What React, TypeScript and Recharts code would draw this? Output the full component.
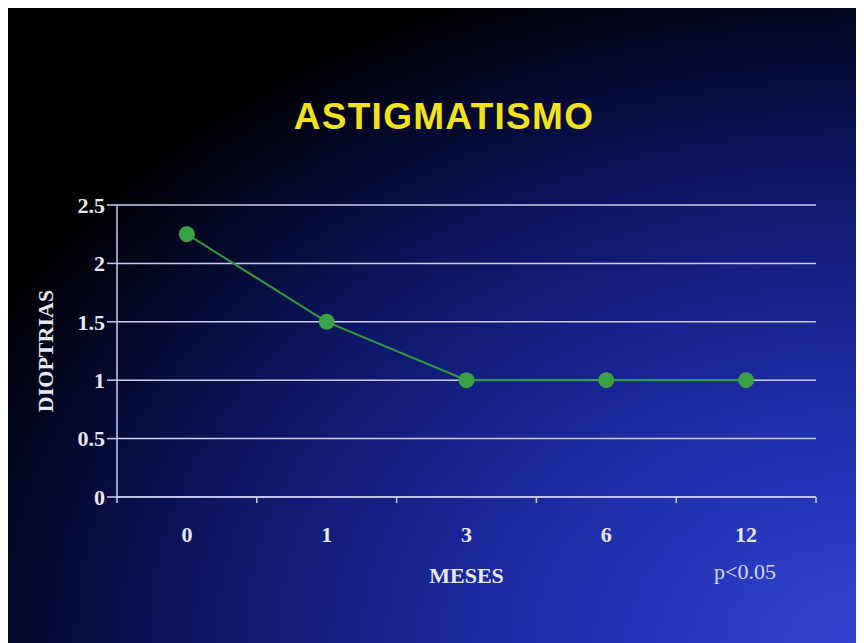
import React from "react";
import {
  LineChart,
  Line,
  XAxis,
  YAxis,
  CartesianGrid,
} from "recharts";

const MESES = ["0", "1", "3", "6", "12"];
const DIOPTRIAS = [2.25, 1.5, 1, 1, 1];
const Y_TICKS = [0, 0.5, 1, 1.5, 2, 2.5];

const data = MESES.map((mes, i) => ({ mes, valor: DIOPTRIAS[i] }));

const SERIF = '"Liberation Serif", "Times New Roman", serif';
const SANS = '"Liberation Sans", Arial, sans-serif';
const TEXT = "#e6e8f4";
const GRID = "#c9cdf0";

// category tick: label in the band centre, tick marks on the band edges
function MesTick(props: any) {
  const { x, y, payload, width, visibleTicksCount, index } = props;
  const band = width / visibleTicksCount;
  const left = x - band / 2;
  return (
    <g>
      <line x1={left} x2={left} y1={y - 8} y2={y - 2} stroke={GRID} strokeWidth={1.5} />
      {index === visibleTicksCount - 1 && (
        <line x1={left + band} x2={left + band} y1={y - 8} y2={y - 2} stroke={GRID} strokeWidth={1.5} />
      )}
      <text
        x={x}
        y={y + 37}
        textAnchor="middle"
        fill={TEXT}
        fontFamily={SERIF}
        fontWeight="bold"
        fontSize={22}
      >
        {payload.value}
      </text>
    </g>
  );
}

export default function App() {
  return (
    <div
      style={{
        position: "relative",
        width: 857,
        height: 639,
        margin: "-4px 0 0 -1px",
        background:
          "radial-gradient(ellipse 120% 115% at 100% 100%, #3244d0 0%, #2536ba 20%, #1a2698 42%, #0e1766 64%, #040726 84%, #000 96%)",
        overflow: "hidden",
      }}
    >
      <div
        style={{
          position: "absolute",
          left: 9,
          width: 856,
          top: 92,
          textAlign: "center",
          fontFamily: SANS,
          fontWeight: "bold",
          fontSize: 37,
          color: "#f2e21c",
          letterSpacing: 1.3,
        }}
      >
        ASTIGMATISMO
      </div>

      <LineChart
        width={857}
        height={639}
        data={data}
        margin={{ top: 201, right: 48, bottom: 50, left: 38 }}
      >
        <CartesianGrid vertical={false} stroke={GRID} strokeWidth={1.5} />
        <XAxis
          dataKey="mes"
          scale="band"
          height={96}
          axisLine={{ stroke: GRID, strokeWidth: 1.5 }}
          tickLine={false}
          tick={<MesTick />}
          interval={0}
          label={{
            value: "MESES",
            position: "insideBottom",
            offset: 10,
            fill: TEXT,
            fontFamily: SERIF,
            fontWeight: "bold",
            fontSize: 22,
          }}
        />
        <YAxis
          width={72}
          domain={[0, 2.5]}
          ticks={Y_TICKS}
          interval={0}
          axisLine={{ stroke: GRID, strokeWidth: 1.5 }}
          tickLine={{ stroke: GRID, strokeWidth: 1.5 }}
          tickSize={10}
          tick={{ fill: TEXT, fontFamily: SERIF, fontWeight: "bold", fontSize: 22 }}
          label={{
            value: "DIOPTRIAS",
            angle: -90,
            position: "insideLeft",
            offset: 0,
            fill: TEXT,
            fontFamily: SERIF,
            fontWeight: "bold",
            fontSize: 22,
            style: { textAnchor: "middle" },
          }}
        />
        <YAxis
          yAxisId="borde"
          orientation="right"
          width={0}
          domain={[0, 2.5]}
          tick={false}
          tickLine={false}
          axisLine={{ stroke: GRID, strokeWidth: 1.5 }}
        />
        <Line
          type="linear"
          dataKey="valor"
          stroke="#2f9a3e"
          strokeWidth={2}
          dot={{ r: 8, fill: "#3aa244", stroke: "#3aa244", strokeWidth: 0 }}
          isAnimationActive={false}
        />
      </LineChart>

      <div
        style={{
          position: "absolute",
          left: 688,
          width: 100,
          top: 555,
          textAlign: "center",
          fontFamily: SERIF,
          fontSize: 22,
          color: "#d4d8f2",
        }}
      >
        p&lt;0.05
      </div>
    </div>
  );
}
